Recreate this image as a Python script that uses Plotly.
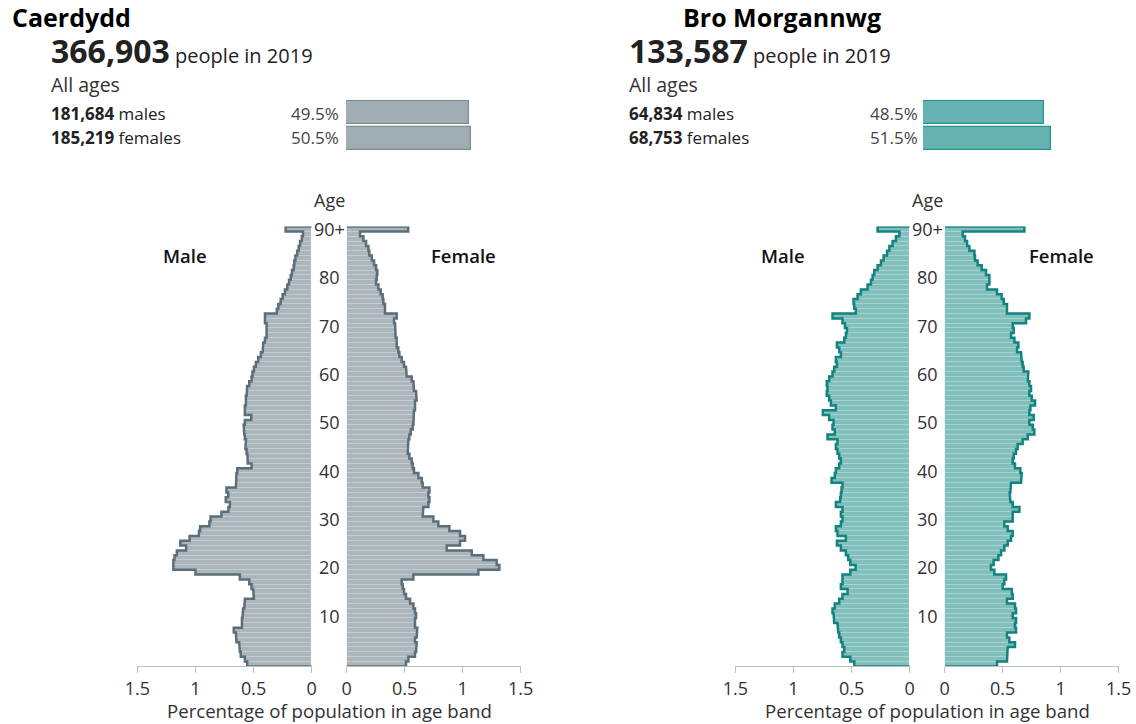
import plotly.graph_objects as go

W, H = 1136, 724

# ---------------- data ----------------
ages = list(range(91))
age_tick_vals = [10, 20, 30, 40, 50, 60, 70, 80, 90]
age_tick_text = ["10", "20", "30", "40", "50", "60", "70", "80", "90+"]
x_tick_vals = [0, 0.5, 1, 1.5]
x_tick_text = ["0", "0.5", "1", "1.5"]

areas = ["Caerdydd", "Bro Morgannwg"]
totals = ["366,903", "133,587"]
males_n = ["181,684", "64,834"]
females_n = ["185,219", "68,753"]
males_pct = [49.5, 48.5]
females_pct = [50.5, 51.5]

caerdydd_male = [
    0.555, 0.575, 0.61, 0.618, 0.624, 0.647, 0.652, 0.67, 0.60, 0.60,
    0.595, 0.59, 0.58, 0.575, 0.497, 0.503, 0.517, 0.537, 0.618, 1.00,
    1.19, 1.19, 1.18, 1.16, 1.08, 1.13, 1.05, 0.97, 0.96, 0.88,
    0.87, 0.776, 0.716, 0.704, 0.739, 0.718, 0.733, 0.652, 0.647, 0.647,
    0.64, 0.517, 0.55, 0.553, 0.56, 0.57, 0.565, 0.575, 0.58, 0.585,
    0.575, 0.52, 0.575, 0.575, 0.566, 0.566, 0.56, 0.555, 0.537, 0.517,
    0.509, 0.497, 0.48, 0.46, 0.437, 0.422, 0.417, 0.402, 0.388, 0.394,
    0.388, 0.402, 0.402, 0.30, 0.287, 0.267, 0.25, 0.23, 0.21, 0.195,
    0.18, 0.17, 0.155, 0.15, 0.14, 0.125, 0.112, 0.10, 0.085, 0.075,
    0.224,
]
caerdydd_female = [
    0.511, 0.532, 0.589, 0.598, 0.603, 0.589, 0.603, 0.609, 0.589, 0.589,
    0.598, 0.589, 0.575, 0.546, 0.511, 0.494, 0.483, 0.474, 0.575, 1.135,
    1.316, 1.293, 1.178, 1.078, 0.862, 0.977, 1.02, 0.977, 0.885, 0.79,
    0.747, 0.655, 0.661, 0.704, 0.713, 0.704, 0.713, 0.655, 0.647, 0.618,
    0.58, 0.569, 0.56, 0.54, 0.526, 0.532, 0.532, 0.54, 0.552, 0.569,
    0.575, 0.575, 0.58, 0.589, 0.589, 0.603, 0.598, 0.58, 0.575, 0.56,
    0.517, 0.511, 0.494, 0.474, 0.454, 0.445, 0.431, 0.431, 0.422, 0.417,
    0.417, 0.408, 0.431, 0.33, 0.33, 0.316, 0.31, 0.293, 0.273, 0.253,
    0.259, 0.264, 0.253, 0.236, 0.216, 0.195, 0.187, 0.167, 0.144, 0.115,
    0.53,
]
bro_male = [
    0.477, 0.511, 0.578, 0.563, 0.578, 0.592, 0.606, 0.615, 0.621, 0.649,
    0.655, 0.664, 0.644, 0.606, 0.578, 0.534, 0.592, 0.578, 0.578, 0.511,
    0.465, 0.511, 0.529, 0.549, 0.592, 0.626, 0.549, 0.621, 0.635, 0.592,
    0.578, 0.592, 0.578, 0.635, 0.598, 0.592, 0.586, 0.578, 0.672, 0.644,
    0.635, 0.606, 0.592, 0.606, 0.621, 0.635, 0.621, 0.707, 0.644, 0.664,
    0.655, 0.693, 0.747, 0.635, 0.678, 0.693, 0.713, 0.707, 0.713, 0.693,
    0.664, 0.649, 0.626, 0.635, 0.592, 0.606, 0.626, 0.563, 0.549, 0.54,
    0.557, 0.578, 0.664, 0.463, 0.477, 0.483, 0.448, 0.42, 0.362, 0.333,
    0.319, 0.305, 0.276, 0.247, 0.224, 0.195, 0.175, 0.147, 0.118, 0.089,
    0.276,
]
bro_female = [
    0.451, 0.537, 0.543, 0.543, 0.606, 0.557, 0.537, 0.615, 0.606, 0.615,
    0.586, 0.615, 0.606, 0.537, 0.586, 0.578, 0.50, 0.514, 0.529, 0.428,
    0.399, 0.422, 0.463, 0.486, 0.514, 0.543, 0.572, 0.586, 0.543, 0.514,
    0.586, 0.586, 0.644, 0.586, 0.566, 0.56, 0.566, 0.572, 0.658, 0.664,
    0.652, 0.606, 0.586, 0.595, 0.615, 0.629, 0.672, 0.716, 0.773, 0.759,
    0.73, 0.767, 0.73, 0.739, 0.779, 0.75, 0.73, 0.744, 0.73, 0.716,
    0.721, 0.681, 0.672, 0.664, 0.658, 0.624, 0.635, 0.601, 0.572, 0.595,
    0.586, 0.701, 0.73, 0.537, 0.537, 0.509, 0.491, 0.451, 0.365, 0.385,
    0.385, 0.356, 0.319, 0.284, 0.261, 0.256, 0.213, 0.193, 0.175, 0.155,
    0.687,
]

# ---------------- styles ----------------
FONT = "Open Sans"
TXT = "#323132"
styles = [
    dict(fill="#aab6bc", line="#5b6e79", hbar="#a0adb3", hbar_line="#7d8b92"),
    dict(fill="#80bfbc", line="#12837f", hbar="#66b2b0", hbar_line="#25968f"),
]

# pixel layout for each pyramid
pyr = [
    dict(male=(137.3, 311.7), female=(346.7, 520.7), hbar_x=346, px_left=51, title_x=10, title_anchor="left", pct_x=341),
    dict(male=(735.3, 909.7), female=(944.7, 1118.7), hbar_x=923, px_left=629, title_x=782, title_anchor="center", pct_x=920),
]
Y_BOTTOM, Y_TOP = 666.4, 226.6
PX_PER_PCT = 2.485


def px(x):
    return x / W


def py(y):
    return 1 - y / H


def outline(vals):
    xs, ys = [0], [len(vals) - 0.5]
    for i in range(len(vals) - 1, -1, -1):
        xs += [vals[i], vals[i]]
        ys += [i + 0.5, i - 0.5]
    xs.append(0)
    ys.append(-0.5)
    return xs, ys


fig = go.Figure()
layout = dict(
    width=W, height=H, margin=dict(l=0, r=0, t=0, b=0, pad=0, autoexpand=False),
    paper_bgcolor="white", plot_bgcolor="white",
    showlegend=False, bargap=0,
    font=dict(family=FONT, color=TXT),
)
annotations = []

data_sets = [(caerdydd_male, caerdydd_female), (bro_male, bro_female)]

for k in range(2):
    st = styles[k]
    p = pyr[k]
    xm = "x" + ("" if k == 0 else str(3))
    xf = "x" + str(2 if k == 0 else 4)
    yy = "y" + ("" if k == 0 else "2")
    xm_key = "xaxis" if k == 0 else "xaxis3"
    xf_key = "xaxis2" if k == 0 else "xaxis4"
    y_key = "yaxis" if k == 0 else "yaxis2"
    male, female = data_sets[k]

    for vals, xa in ((male, xm), (female, xf)):
        fig.add_trace(go.Bar(
            y=ages, x=vals, orientation="h", width=1,
            marker=dict(color=st["fill"], line=dict(color="rgba(255,255,255,0.2)", width=0.6)),
            xaxis=xa, yaxis=yy, hoverinfo="skip",
        ))
        ox, oy = outline(vals)
        fig.add_trace(go.Scatter(
            x=ox, y=oy, mode="lines", line=dict(color=st["line"], width=2.5),
            xaxis=xa, yaxis=yy, cliponaxis=False, hoverinfo="skip",
        ))

    common_x = dict(
        showgrid=False, zeroline=False, showline=True, linecolor="#bdbdbd", linewidth=1,
        ticks="outside", ticklen=6, tickcolor="#bdbdbd", tickvals=x_tick_vals, ticktext=x_tick_text,
        tickfont=dict(size=18, color=TXT, family=FONT), fixedrange=True, automargin=False,
    )
    layout[xm_key] = dict(common_x, domain=[px(p["male"][0]), px(p["male"][1])], range=[1.5, 0], anchor=yy)
    layout[xf_key] = dict(common_x, domain=[px(p["female"][0]), px(p["female"][1])], range=[0, 1.5], anchor=yy)
    layout[y_key] = dict(domain=[py(Y_BOTTOM), py(Y_TOP)], range=[-0.5, 90.5], visible=False,
                         anchor=xm, fixedrange=True, automargin=False)

    cx = (p["male"][1] + p["female"][0]) / 2
    for v, t in zip(age_tick_vals, age_tick_text):
        annotations.append(dict(x=px(cx), xref="paper", y=v, yref=yy, text=t, showarrow=False,
                                xanchor="center", yanchor="middle", font=dict(size=18, color=TXT)))
    annotations.append(dict(x=px(cx), y=py(200), xref="paper", yref="paper", text="Age", showarrow=False,
                            xanchor="center", yanchor="middle", font=dict(size=18, color=TXT)))
    annotations.append(dict(x=px(p["male"][0] + 47.5), y=py(255), xref="paper", yref="paper", text="Male",
                            showarrow=False, xanchor="center", yanchor="middle",
                            font=dict(size=18.5, color="#111111", weight=600)))
    annotations.append(dict(x=px(p["female"][1] - 57.5), y=py(255), xref="paper", yref="paper", text="Female",
                            showarrow=False, xanchor="center", yanchor="middle",
                            font=dict(size=18.5, color="#111111", weight=600)))
    annotations.append(dict(x=px(cx), y=py(710), xref="paper", yref="paper",
                            text="Percentage of population in age band", showarrow=False,
                            xanchor="center", yanchor="middle", font=dict(size=18.6, color=TXT)))

    # header
    annotations.append(dict(x=px(p["title_x"]), y=py(17), xref="paper", yref="paper", text="<b>%s</b>" % areas[k],
                            showarrow=False, xanchor=p["title_anchor"], yanchor="middle",
                            font=dict(size=25, color="#000000")))
    annotations.append(dict(x=px(p["px_left"] - 2), y=py(51), xref="paper", yref="paper",
                            text="<b>%s</b><span style='font-size:20px'> people in 2019</span>" % totals[k],
                            showarrow=False, xanchor="left", yanchor="middle",
                            font=dict(size=32, color="#222222")))
    annotations.append(dict(x=px(p["px_left"] - 2), y=py(84), xref="paper", yref="paper", text="All ages",
                            showarrow=False, xanchor="left", yanchor="middle", font=dict(size=19.5, color=TXT)))
    annotations.append(dict(x=px(p["px_left"] - 2), y=py(113), xref="paper", yref="paper",
                            text="<b>%s</b> males" % males_n[k], showarrow=False, xanchor="left",
                            yanchor="middle", font=dict(size=17, color="#222222")))
    annotations.append(dict(x=px(p["px_left"] - 2), y=py(137), xref="paper", yref="paper",
                            text="<b>%s</b> females" % females_n[k], showarrow=False, xanchor="left",
                            yanchor="middle", font=dict(size=17, color="#222222")))
    annotations.append(dict(x=px(p["pct_x"]), y=py(113), xref="paper", yref="paper",
                            text="%.1f%%" % males_pct[k], showarrow=False, xanchor="right",
                            yanchor="middle", font=dict(size=17, color="#444444")))
    annotations.append(dict(x=px(p["pct_x"]), y=py(137), xref="paper", yref="paper",
                            text="%.1f%%" % females_pct[k], showarrow=False, xanchor="right",
                            yanchor="middle", font=dict(size=17, color="#444444")))

    # header bars
    hx = "x" + str(5 + k)
    hy = "y" + str(3 + k)
    fig.add_trace(go.Bar(
        y=[1, 0], x=[males_pct[k], females_pct[k]], orientation="h", width=0.92,
        marker=dict(color=st["hbar"], line=dict(color=st["hbar_line"], width=1.2)),
        xaxis=hx, yaxis=hy, hoverinfo="skip",
    ))
    layout["xaxis" + str(5 + k)] = dict(domain=[px(p["hbar_x"]), px(p["hbar_x"] + PX_PER_PCT * 60)],
                                        range=[0, 60], visible=False, anchor=hy, fixedrange=True,
                                        automargin=False)
    layout["yaxis" + str(3 + k)] = dict(domain=[py(151), py(100)], range=[-0.5, 1.5], visible=False,
                                        anchor=hx, fixedrange=True, automargin=False)

layout["annotations"] = annotations
fig.update_layout(**layout)
fig.write_html("out.html", config={"displayModeBar": False},
               post_script="document.body.style.margin='0px';")
